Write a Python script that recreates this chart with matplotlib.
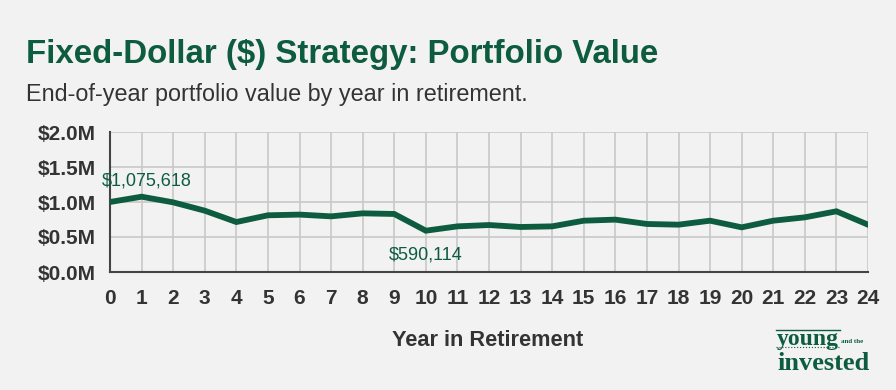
import matplotlib.pyplot as plt
from matplotlib.ticker import FuncFormatter

# data
years = list(range(0, 25))
values = [1000000, 1075618, 995000, 876000, 714000, 810000, 820000, 795000, 838000, 829000,
          590114, 652000, 671000, 643000, 652000, 733000, 748000, 686000, 676000, 733000,
          638000, 733000, 781000, 867000, 676000]
y_ticks = [0, 500000, 1000000, 1500000, 2000000]

green = "#0d5c3f"
bg = "#f2f2f2"

plt.rcParams['font.family'] = ['Liberation Sans', 'DejaVu Sans']

fig = plt.figure(figsize=(8.96, 3.9), dpi=100, facecolor=bg)
ax = fig.add_axes([110 / 896, 118 / 390, 758 / 896, 140 / 390], facecolor=bg)

ax.plot(years, values, color=green, linewidth=4.2, solid_joinstyle='miter', zorder=3)

ax.set_xlim(0, 24)
ax.set_ylim(0, 2000000)
ax.set_xticks(years)
ax.set_yticks(y_ticks)
ax.yaxis.set_major_formatter(FuncFormatter(lambda v, p: f"${v / 1e6:.1f}M"))
ax.grid(True, color="#c8c8c8", linewidth=1.2, zorder=0)
ax.tick_params(length=0, labelsize=15, colors="#333333")
ax.tick_params(axis='x', pad=12)
ax.tick_params(axis='y', pad=10)
for lab in ax.get_xticklabels() + ax.get_yticklabels():
    lab.set_fontweight('bold')
for s in ['top', 'right']:
    ax.spines[s].set_visible(False)
for s in ['left', 'bottom']:
    ax.spines[s].set_color("#444444")
    ax.spines[s].set_linewidth(1.5)

fig.text(488 / 896, 1 - 346 / 390, "Year in Retirement", fontsize=15.7, fontweight='bold',
         color="#333333", ha='center', va='baseline')

# annotations for max and min
i_max = values.index(max(values))
i_min = values.index(min(values))
ax.annotate(f"${values[i_max]:,}", (years[i_max], values[i_max]), xytext=(4, 8),
            textcoords='offset points', ha='center', va='baseline', color=green, fontsize=13)
ax.annotate(f"${values[i_min]:,}", (years[i_min], values[i_min]), xytext=(0, -20.5),
            textcoords='offset points', ha='center', va='baseline', color=green, fontsize=13)

fig.text(26 / 896, 1 - 63 / 390, "Fixed-Dollar ($) Strategy: Portfolio Value", fontsize=23.8,
         fontweight='bold', color=green, va='baseline', ha='left')
fig.text(26 / 896, 1 - 101 / 390, "End-of-year portfolio value by year in retirement.", fontsize=16.8,
         color="#333333", va='baseline', ha='left')

# logo
fig.text(808 / 896, 1 - 345 / 390, "young", fontsize=17, family=['Liberation Serif'], fontweight='bold',
         color=green, va='baseline', ha='center')
fig.text(852 / 896, 1 - 343 / 390, "and the", fontsize=5, family=['Liberation Serif'], fontweight='bold',
         color=green, va='baseline', ha='center')
fig.text(824 / 896, 1 - 370 / 390, "invested", fontsize=19, family=['Liberation Serif'], fontweight='bold',
         color=green, va='baseline', ha='center')
fig.add_artist(plt.Line2D([776 / 896, 840 / 896], [1 - 330 / 390, 1 - 330 / 390], color=green, linewidth=1))
fig.add_artist(plt.Line2D([776 / 896, 840 / 896], [1 - 347 / 390, 1 - 347 / 390], color=green,
                          linewidth=0.8, linestyle=':'))

fig.savefig("out.png", dpi=100, facecolor=bg)
